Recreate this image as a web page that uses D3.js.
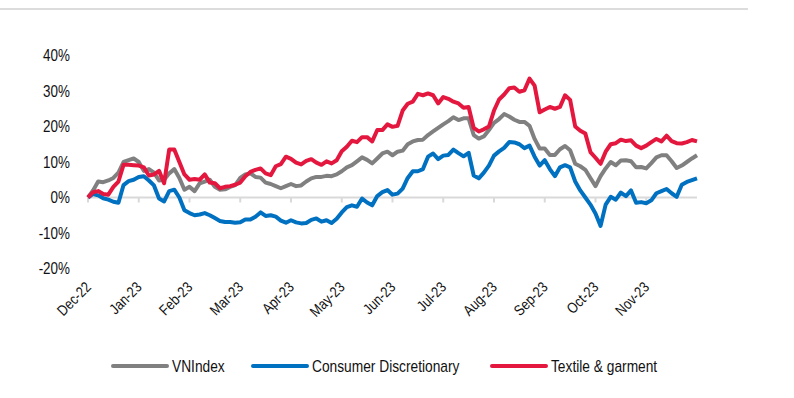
<!DOCTYPE html>
<html>
<head>
<meta charset="utf-8">
<script src="https://cdnjs.cloudflare.com/ajax/libs/d3/7.8.5/d3.min.js"></script>
<style>
  body { margin: 0; background: #fff; }
  text { font-family: "Liberation Sans Narrow", "Arial Narrow", "Liberation Sans", sans-serif; fill: #111; }
</style>
</head>
<body>
<svg id="chart" width="794" height="398"></svg>
<script>
// month tick labels
var months = ["Dec-22","Jan-23","Feb-23","Mar-23","Apr-23","May-23","Jun-23","Jul-23","Aug-23","Sep-23","Oct-23","Nov-23"]
var yTicks = [-20,-10,0,10,20,30,40]
var seriesNames = ["VNIndex","Consumer Discretionary","Textile & garment"]
var seriesColors = ["#808080","#0070c0","#e4173e"]

// % change, one value every 0.1 month from start of Dec-22
var vnindex = [0,2,4.5,4.3,4.8,5.5,7,10,10.5,11,10,7.5,8,7,4.8,5,6.8,8,5.5,2.2,
  3,1.8,4,4.5,5,3,2.2,2.3,3,3.5,5.5,6.5,6.8,5.8,5.6,4.2,3.8,3.2,2.6,3.2,
  3.8,3.2,3.4,4.5,5.4,5.8,5.8,6.1,6,6.5,7.4,8.5,9.1,10.2,11.3,10.6,9.6,11,12.4,12.9,
  11.9,12.9,13.2,15,15.8,16.2,16.3,17.6,18.6,19.6,20.6,21.5,22.6,21.8,22.3,22.3,17.6,16.6,17.2,19,
  21,22.1,23.5,22.8,21.9,21.3,21.3,20.2,16.5,13.8,13.8,12,12,13.6,14.5,13.3,9.5,8.8,7.8,5.5,
  3.2,6,8.2,10,9.1,10.4,10.5,10.2,8.5,8.6,8.2,9.7,11.3,11.9,11.9,10.2,8.3,9,10,11,11.9]

var consDisc = [0,1,0.6,-0.2,-0.6,-1.2,-1.5,3.5,4.6,5,5.8,6,4.8,3.4,-0.3,-1.1,1.8,2.2,0,-3.6,
  -4.4,-5,-4.8,-4.4,-5,-5.8,-6.6,-6.9,-6.9,-7.1,-7,-6.2,-6.2,-5.4,-4.2,-5.2,-5,-5.4,-6.5,-7.1,
  -6.4,-7,-7.3,-7.2,-6.3,-5.9,-6.8,-6.4,-7.2,-6,-4.2,-2.7,-2.2,-2.6,-0.3,-1.4,-2.2,0.4,1.5,2.1,
  0.8,1.1,2.5,5.5,7.4,7.4,8,11.5,12.4,10.8,11.8,12,13.5,12.5,11.6,12.6,6.2,5.4,7,9,
  11.8,13,14,15.6,15.5,15,13.9,14.6,11.5,9,10.5,8,6,8.5,9.1,8.5,4.5,2,0,-2,
  -4.5,-8,-2,0.2,-0.6,1.4,0.4,2,-1.5,-1.3,-1.6,-0.8,1.2,1.8,2.4,1.2,0.2,3.6,4.4,4.9,5.4]

var textile = [0,1.5,1.8,1,0.8,3,4.5,9.2,9.2,9.1,9,8.5,6.2,6.5,7.5,4,13.5,13.5,10,6.5,
  5,5.2,5,6.5,4.2,4,2.6,3,3.2,3.6,4.2,6,7.2,7.8,8.2,6.8,6.3,8.8,9.4,11.5,
  10.9,9.8,9.3,10.3,10.8,9.8,9.2,10.2,9.6,10.5,13,14.3,16,15.6,17,17,15.8,19,19,20.6,
  19.9,20.2,24.5,26.4,27,29.2,28.8,29.3,28.8,26.5,28.3,27.8,27,26.5,25.3,25.5,19.6,18.6,19.2,20,
  24.5,27.6,29,30.8,31,29.8,30.2,33.5,31.5,24,24.8,25.5,25,25.5,28.8,27.5,20,18.8,18,12.8,
  11.2,9.5,12.9,15,15.3,16.3,15.9,16.1,14.6,13.9,14.6,15.6,16.5,15.8,17.4,15.9,15.3,15.2,15.6,16.2,15.8]

var allSeries = [vnindex, consDisc, textile]

// no narrow font installed, so squeeze text horizontally
var narrow = 0.84

var svg = d3.select("#chart")

// thin rule across the top
svg.append("line")
    .attr("x1",0).attr("x2",748)
    .attr("y1",9).attr("y2",9)
    .attr("stroke","#dcdcdc").attr("stroke-width",2)

var x = d3.scaleLinear().domain([0,12]).range([88,697])
var y = d3.scaleLinear().domain([-20,40]).range([268.5,55.5])

// y labels
svg.selectAll(".ylab").data(yTicks).enter()
  .append("text")
    .attr("class","ylab")
    .attr("text-anchor","end")
    .attr("font-size","16px")
    .attr("transform",function(d){return "translate(70,"+(y(d)+5.5)+") scale("+narrow+",1)"})
    .text(function(d){return d+"%"})

// zero axis with month ticks
svg.append("line")
    .attr("x1",x(0)).attr("x2",x(12))
    .attr("y1",y(0)).attr("y2",y(0))
    .attr("stroke","#d9d9d9").attr("stroke-width",2)

svg.selectAll(".tick").data(months).enter()
  .append("line")
    .attr("class","tick")
    .attr("x1",function(d,i){return x(i)}).attr("x2",function(d,i){return x(i)})
    .attr("y1",y(0)).attr("y2",y(0)+5)
    .attr("stroke","#d9d9d9").attr("stroke-width",2)

svg.selectAll(".xlab").data(months).enter()
  .append("text")
    .attr("class","xlab")
    .attr("text-anchor","end")
    .attr("font-size","15px")
    .attr("transform",function(d,i){return "translate("+(x(i)+4)+",288) rotate(-45) scale("+narrow+",1)"})
    .text(function(d){return d})

// lines
var line = d3.line()
    .x(function(d,i){return x(i/10)})
    .y(function(d){return y(d)})

for (var s=0;s<allSeries.length;s++){
  svg.append("path")
      .datum(allSeries[s])
      .attr("fill","none")
      .attr("stroke",seriesColors[s])
      .attr("stroke-width",4)
      .attr("stroke-linejoin","round")
      .attr("d",line)
}

// legend
var legX = [113,253,492]
for (var s=0;s<seriesNames.length;s++){
  svg.append("line")
      .attr("x1",legX[s]).attr("x2",legX[s]+54)
      .attr("y1",366).attr("y2",366)
      .attr("stroke",seriesColors[s]).attr("stroke-width",4)
      .attr("stroke-linecap","round")
  svg.append("text")
      .attr("font-size","16px")
      .attr("transform","translate("+(legX[s]+59)+",371.5) scale(0.86,1)")
      .text(seriesNames[s])
}
</script>
</body>
</html>
